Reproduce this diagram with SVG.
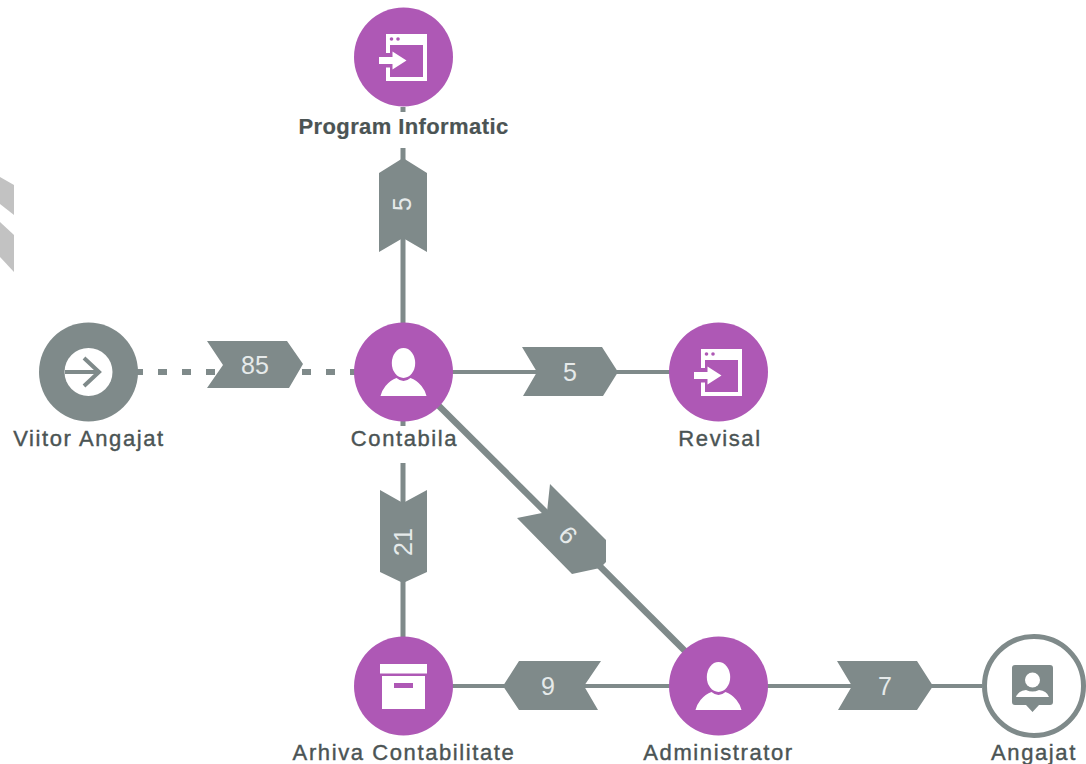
<svg xmlns="http://www.w3.org/2000/svg" width="1086" height="764" viewBox="0 0 1086 764">
<style>
text{font-family:"Liberation Sans",Arial,sans-serif}
.lab{font-size:22px;fill:#4b5454;text-anchor:middle;letter-spacing:1.600px;stroke:#4b5454;stroke-width:.4px}
.bold{font-weight:700;letter-spacing:.4px;stroke-width:.2px}
.tag{font-size:25px;fill:#e6eaea;text-anchor:middle}
.edge{stroke:#7f8a8a;fill:none}
.tagbg{fill:#7f8a8a}
.pur{fill:#ae58b5}
.gr{fill:#7f8a8a}
.w{fill:#fff}
</style>
<defs>
<g id="user"><ellipse cx="0" cy="-9" rx="11.700" ry="15" fill="#fff"/><path d="M-23 24Q-22 19-18 14Q-13 8-7 6Q0 12 7 6Q13 8 18 14Q22 19 23 24Z" fill="#fff"/></g>
<g id="app"><path fill="#fff" d="M-17.500-28H23.500V19H-17.500V5.500H-13.500V15H19.500V-17H-13.500V-9H-17.500Z"/><circle cx="-12" cy="-23" r="1.800" fill="#ae58b5"/><circle cx="-5.500" cy="-23" r="1.800" fill="#ae58b5"/><path fill="#fff" d="M-24.500-5H-11V-10.500L3-1.500-11 7.500V2H-24.500Z"/></g>
</defs>
<g id="fragments"><polygon points="0,177 14,185 14,215 0,204" fill="#c2c2c2"/><polygon points="0,222 14,235 14,272 0,257" fill="#c2c2c2"/></g>
<g id="connectors">
<line class="edge" x1="403" y1="107" x2="403" y2="112" stroke-width="5"/>
<line class="edge" x1="403" y1="148" x2="403" y2="323" stroke-width="5"/>
<line class="edge" x1="134" y1="372" x2="356" y2="372" stroke-width="6" stroke-dasharray="9 15"/>
<line class="edge" x1="452" y1="372" x2="670" y2="372" stroke-width="4"/>
<line class="edge" x1="403" y1="421" x2="403" y2="426" stroke-width="5"/>
<line class="edge" x1="403" y1="463" x2="403" y2="637" stroke-width="5"/>
<line class="edge" x1="438" y1="405" x2="686" y2="652" stroke-width="6.500"/>
<line class="edge" x1="452" y1="686" x2="670" y2="686" stroke-width="4"/>
<line class="edge" x1="767" y1="686" x2="982" y2="686" stroke-width="4"/>
<polygon class="tagbg" points="379,173 403,158 427,173 427,252 403,238 379,252"/>
<polygon class="tagbg" points="207,341 287,341 303,364 289,388 207,388 223,365"/>
<polygon class="tagbg" points="522,347 602,347 618,372 603,396 523,396 537,372"/>
<polygon class="tagbg" points="380,490 403,503 427,490 427,572 403,583 380,572"/>
<polygon class="tagbg" points="550,484 606,540 606,562 600,568 572,574 517,518 547,512"/>
<polygon class="tagbg" points="519,661 601,661 584,686 598,710 519,710 503,686"/>
<polygon class="tagbg" points="837,661 917,661 933,686 917,710 838,710 852,686"/>
<text class="tag" transform="translate(411,204) rotate(-90)">5</text>
<text class="tag" x="255" y="374">85</text>
<text class="tag" x="570" y="381">5</text>
<text class="tag" transform="translate(412,542) rotate(-90)">21</text>
<text class="tag" transform="translate(574,529) rotate(-135)">9</text>
<text class="tag" x="548" y="695">9</text>
<text class="tag" x="885" y="695">7</text>
</g>
<g id="node-program"><circle class="pur" cx="403.500" cy="57" r="49.500"/><use href="#app" x="403.500" y="62"/><text class="lab bold" x="403.500" y="134">Program Informatic</text></g>
<g id="node-viitor"><circle class="gr" cx="88.500" cy="372" r="49.500"/><circle class="w" cx="88.500" cy="372" r="24"/><path d="M65 372H98M84 358L99 372 84 386" fill="none" stroke="#7f8a8a" stroke-width="4"/><text class="lab" x="89" y="446">Viitor Angajat</text></g>
<g id="node-contabila"><circle class="pur" cx="403.500" cy="372" r="49.500"/><use href="#user" x="403.500" y="372"/><text class="lab" x="404.500" y="446">Contabila</text></g>
<g id="node-revisal"><circle class="pur" cx="718.500" cy="372" r="49.500"/><use href="#app" x="718.500" y="377"/><text class="lab" x="720" y="446">Revisal</text></g>
<g id="node-arhiva"><circle class="pur" cx="403.500" cy="686" r="49.500"/><rect class="w" x="380" y="664" width="47" height="9.500"/><path fill="#fff" fill-rule="evenodd" d="M382 676H425V709H382ZM394 683V688H413V683Z"/><text class="lab" x="404" y="760">Arhiva Contabilitate</text></g>
<g id="node-administrator"><circle class="pur" cx="718.500" cy="686" r="49.500"/><use href="#user" x="718.500" y="686"/><text class="lab" x="718.500" y="760">Administrator</text></g>
<g id="node-angajat"><circle cx="1034" cy="686" r="49.500" fill="#fff" stroke="#7f8a8a" stroke-width="5"/><path class="gr" d="M1015 665H1050Q1053 665 1053 668V702Q1053 705 1050 705H1039L1032.500 712 1026 705H1015Q1012 705 1012 702V668Q1012 665 1015 665Z"/><circle class="w" cx="1032.500" cy="680" r="7.500"/><path class="w" d="M1016 697Q1018 691 1026 690Q1032.500 693 1039 690Q1047 691 1049 697Z"/><text class="lab" x="1034" y="760">Angajat</text></g>
</svg>
